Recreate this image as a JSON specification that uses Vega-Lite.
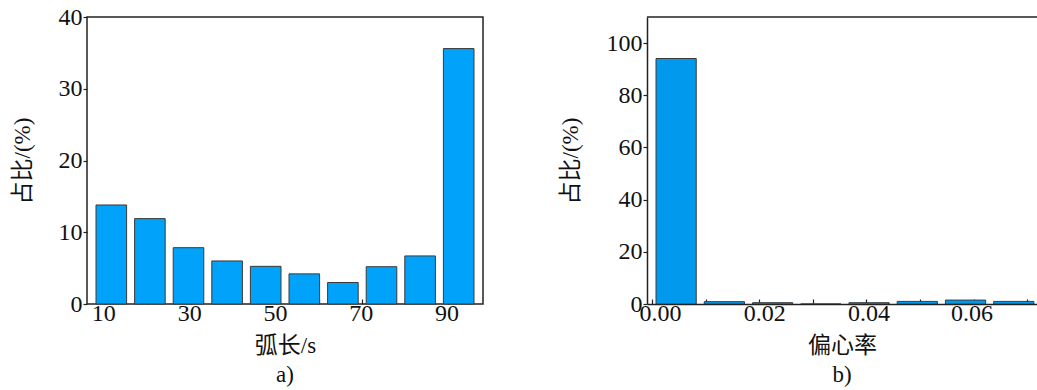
{
  "$schema": "https://vega.github.io/schema/vega-lite/v6.json",
  "padding": {"left": 10, "top": 4, "right": 0, "bottom": 0},
  "background": "white",
  "spacing": 75,
  "config": {
    "font": "Liberation Serif, Noto Sans CJK SC",
    "axis": {
      "labelFont": "Liberation Serif, Noto Sans CJK SC",
      "titleFont": "Liberation Serif, Noto Sans CJK SC",
      "labelFontSize": 24,
      "titleFontSize": 23,
      "titleFontWeight": "normal",
      "labelColor": "#111",
      "titleColor": "#111",
      "grid": false,
      "tickColor": "#222",
      "domainColor": "#222",
      "domainWidth": 1.5,
      "tickWidth": 1.2,
      "labelOverlap": false,
      "labelFlush": false,
      "labelBound": false
    },
    "title": {"font": "Liberation Serif, Noto Sans CJK SC", "fontSize": 23, "fontWeight": "normal", "color": "#111"}
  },
  "hconcat": [
    {
      "width": 396,
      "height": 287,
      "view": {"stroke": "#222", "strokeWidth": 1.5},
      "title": {"text": "a)", "orient": "bottom", "offset": 7},
      "data": {"values": [
        {"start": 7, "end": 16, "pct": 13.8},
        {"start": 16, "end": 25, "pct": 11.9},
        {"start": 25, "end": 34, "pct": 7.85},
        {"start": 34, "end": 43, "pct": 6.0},
        {"start": 43, "end": 52, "pct": 5.25},
        {"start": 52, "end": 61, "pct": 4.2},
        {"start": 61, "end": 70, "pct": 3.0},
        {"start": 70, "end": 79, "pct": 5.2},
        {"start": 79, "end": 88, "pct": 6.7},
        {"start": 88, "end": 97, "pct": 35.6}
      ]},
      "mark": {"type": "bar", "orient": "vertical", "color": "#00A2FA", "stroke": "#3a3a3a", "strokeWidth": 1, "xOffset": 4, "x2Offset": -4},
      "encoding": {
        "x": {
          "field": "start", "type": "quantitative",
          "scale": {"domain": [7, 97], "nice": false, "zero": false},
          "axis": {
            "values": [10, 20, 30, 40, 50, 60, 70, 80, 90],
            "labelExpr": "datum.value % 20 == 10 ? datum.label : ''",
            "tickSize": -5, "domain": false, "title": "弧长/s",
            "labelOffset": -1.5, "labelPadding": 2, "titlePadding": 9
          }
        },
        "x2": {"field": "end"},
        "y": {
          "field": "pct", "type": "quantitative",
          "scale": {"domain": [0, 40], "nice": false},
          "axis": {"values": [0, 10, 20, 30, 40], "tickSize": 4, "domain": false, "title": "占比/(%)", "titlePadding": 24, "labelPadding": 1}
        },
        "y2": {"datum": 0}
      }
    },
    {
      "width": 390,
      "height": 287,
      "view": {"stroke": null},
      "title": {"text": "b)", "orient": "bottom", "offset": 7},
      "data": {"values": [
        {"start": 0.000, "end": 0.009, "pct": 94.1},
        {"start": 0.009, "end": 0.018, "pct": 0.9},
        {"start": 0.018, "end": 0.027, "pct": 0.5},
        {"start": 0.027, "end": 0.036, "pct": 0},
        {"start": 0.036, "end": 0.045, "pct": 0.5},
        {"start": 0.045, "end": 0.054, "pct": 1.0},
        {"start": 0.054, "end": 0.063, "pct": 1.5},
        {"start": 0.063, "end": 0.072, "pct": 1.0}
      ]},
      "layer": [
        {
          "mark": {"type": "bar", "orient": "vertical", "color": "#0099EE", "stroke": "#3a3a3a", "strokeWidth": 1, "xOffset": 4, "x2Offset": -4, "clip": true},
          "encoding": {
            "x": {
              "field": "start", "type": "quantitative",
              "scale": {"domain": [0, 0.0709], "nice": false, "zero": false},
              "axis": {
                "values": [0, 0.01, 0.02, 0.03, 0.04, 0.05, 0.06, 0.07],
                "labelExpr": "round(datum.value * 100) % 2 == 0 ? format(datum.value, '.2f') : ''",
                "labelOffset": {"condition": [
                  {"test": "datum.value < 0.005", "value": 8},
                  {"test": "datum.value < 0.025", "value": 5},
                  {"test": "datum.value < 0.045", "value": 2}
                ], "value": -2},
                "tickSize": -5, "domain": true, "title": "偏心率",
                "labelPadding": 2, "titlePadding": 9
              }
            },
            "x2": {"field": "end"},
            "y": {
              "field": "pct", "type": "quantitative",
              "scale": {"domain": [0, 110], "nice": false},
              "axis": {"values": [0, 20, 40, 60, 80, 100], "tickSize": 4, "domain": true, "title": "占比/(%)", "titlePadding": 24, "labelPadding": 1}
            },
            "y2": {"datum": 0}
          }
        },
        {
          "data": {"values": [{}]},
          "mark": {"type": "rule", "color": "#222", "strokeWidth": 1.5},
          "encoding": {"y": {"datum": 110, "type": "quantitative"}}
        }
      ]
    }
  ]
}
